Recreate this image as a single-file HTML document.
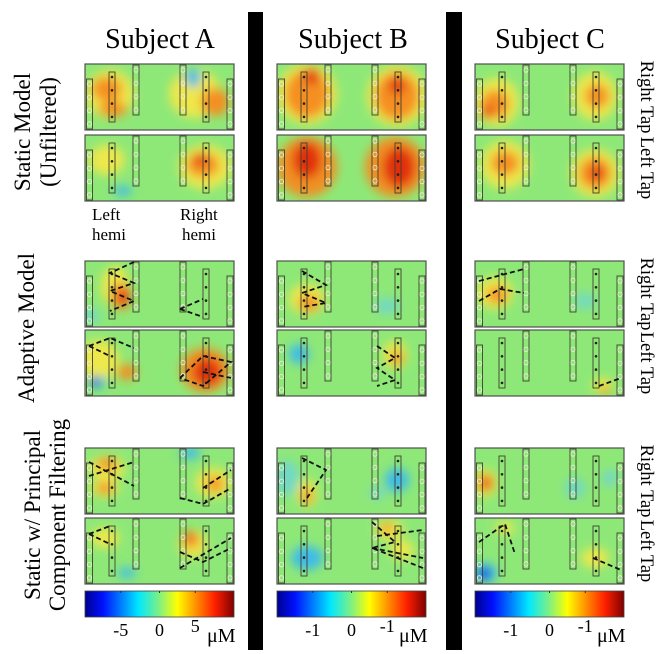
<!DOCTYPE html>
<html><head><meta charset="utf-8">
<style>
html,body{margin:0;padding:0;background:#fff;}
svg{display:block;}
text{font-family:"Liberation Serif",serif;fill:#000;}
</style></head>
<body>
<svg id="fig" width="667" height="654" viewBox="0 0 667 654" xmlns="http://www.w3.org/2000/svg">
<defs>
<filter id="blur" x="-50%" y="-50%" width="200%" height="200%"><feGaussianBlur stdDeviation="5"/></filter>
<linearGradient id="jet" x1="0" x2="1" y1="0" y2="0">
<stop offset="0" stop-color="#00008f"/><stop offset="0.12" stop-color="#0010ff"/>
<stop offset="0.36" stop-color="#00e8ff"/><stop offset="0.5" stop-color="#80f080"/>
<stop offset="0.62" stop-color="#ffff00"/><stop offset="0.87" stop-color="#ff2000"/>
<stop offset="1" stop-color="#800000"/></linearGradient>
<clipPath id="pclip"><rect x="0" y="0" width="149" height="66"/></clipPath>
</defs>
<rect x="248" y="12" width="15" height="638" fill="#000"/>
<rect x="446" y="12" width="16" height="638" fill="#000"/>
<text x="160" y="48" font-size="28" text-anchor="middle">Subject A</text>
<text x="353" y="48" font-size="28" text-anchor="middle">Subject B</text>
<text x="550" y="48" font-size="28" text-anchor="middle">Subject C</text>
<g font-size="18.5">
<text transform="translate(641,97) rotate(90)" text-anchor="middle">Right Tap</text>
<text transform="translate(641,168) rotate(90)" text-anchor="middle">Left Tap</text>
<text transform="translate(641,294) rotate(90)" text-anchor="middle">Right Tap</text>
<text transform="translate(641,363) rotate(90)" text-anchor="middle">Left Tap</text>
<text transform="translate(641,481) rotate(90)" text-anchor="middle">Right Tap</text>
<text transform="translate(641,551) rotate(90)" text-anchor="middle">Left Tap</text>
</g>
<g font-size="23">
<text transform="translate(30,132) rotate(-90)" text-anchor="middle">Static Model</text>
<text transform="translate(56,132) rotate(-90)" text-anchor="middle">(Unfiltered)</text>
<text transform="translate(34,328) rotate(-90)" text-anchor="middle">Adaptive Model</text>
<text transform="translate(40,515) rotate(-90)" text-anchor="middle">Static w/ Principal</text>
<text transform="translate(65,515) rotate(-90)" text-anchor="middle">Component Filtering</text>
</g>
<g font-size="17">
<text x="92" y="220">Left</text>
<text x="92" y="240">hemi</text>
<text x="180" y="220">Right</text>
<text x="182" y="240">hemi</text>
</g>
<g id="panels"></g>
<g id="bars"></g>
</svg>
<script>
const colX = [85, 277, 475];
const rowY = [64, 135, 261, 330, 448, 518];
const C = {r:"#e02810", o:"#f58a20", y:"#f2e848", b:"#38b8f0", d:"#1028d8", lb:"#70d8c8"};
// blobs per panel: [cx, cy, rx, ry, color]  (panel units 149x66)
const blobs = [
 [[[25,30,24,24,"y"],[110,30,26,24,"y"],[22,25,15,12,"o"],[28,45,14,8,"o"],[130,38,14,14,"o"],[108,14,8,9,"b"]],
  [[22,25,18,15,"y"],[38,56,9,5,"b"],[120,32,26,22,"y"],[118,30,16,12,"o"],[115,24,7,6,"r"]]],
 [[[30,30,30,30,"y"],[30,30,22,24,"o"],[35,12,8,8,"r"],[120,32,30,30,"y"],[120,32,22,24,"o"],[120,22,8,8,"r"]],
  [[30,32,30,30,"o"],[30,25,14,18,"r"],[118,32,30,30,"o"],[122,32,16,20,"r"]]],
 [[[22,38,22,24,"y"],[20,40,14,14,"o"],[12,48,6,6,"r"],[120,32,22,24,"y"],[122,32,12,12,"o"]],
  [[30,30,24,24,"y"],[30,28,14,12,"o"],[120,38,24,24,"y"],[120,38,16,16,"o"],[122,38,7,7,"r"]]],
 [[[30,25,14,20,"y"],[36,35,10,14,"o"],[38,36,6,8,"r"],[5,55,10,7,"lb"]],
  [[14,30,20,20,"y"],[42,42,10,8,"o"],[12,52,8,6,"b"],[10,52,5,4,"d"],[120,40,24,22,"o"],[122,42,14,14,"r"]]],
 [[[30,38,18,15,"y"],[32,42,10,8,"o"],[110,45,12,8,"lb"]],
  [[22,24,10,10,"b"],[118,25,12,14,"y"],[120,28,6,7,"o"]]],
 [[[20,32,18,16,"y"],[22,34,10,8,"o"],[110,40,10,8,"lb"]],
  [[128,56,10,8,"y"],[130,60,5,4,"o"]]],
 [[[22,20,18,12,"y"],[22,16,10,6,"o"],[20,40,14,9,"y"],[20,40,8,6,"o"],[128,35,18,15,"y"],[130,36,8,8,"o"],[105,5,10,6,"b"]],
  [[20,20,14,10,"y"],[42,55,9,5,"b"],[108,26,14,14,"y"],[106,22,8,8,"o"],[104,18,4,5,"r"]]],
 [[[10,30,12,18,"lb"],[30,45,10,14,"y"],[30,48,5,8,"o"],[120,32,12,12,"b"],[100,45,8,6,"lb"]],
  [[30,40,16,12,"b"],[112,12,14,10,"y"],[110,10,6,5,"o"],[125,32,12,10,"y"]]],
 [[[10,35,12,14,"y"],[10,35,8,9,"o"],[12,35,5,5,"r"],[100,40,10,10,"lb"],[135,30,8,8,"lb"]],
  [[10,55,12,10,"b"],[9,56,6,6,"d"],[120,40,14,10,"y"],[30,10,10,6,"y"]]]
];
// dashed source-detector paths per panel (same indexing as blobs)
const dashes = [
 [[],[]],[[],[]],[[],[]],
 [[[49,1,25,12,49,22,25,30,49,40,25,50],[95,48,118,56],[95,48,118,38]],
  [[4,16,25,8,49,18],[4,16,25,26],[95,48,118,26,146,32,118,56,95,48],[118,42,146,48]]],
 [[[25,10,49,24,25,32,49,42,25,46]],
  [[100,16,118,28,100,38,118,50,100,56]]],
 [[[4,20,49,8],[4,40,25,28,49,32]],
  [[124,56,146,48]]],
 [[[4,14,49,38],[4,28,49,14],[95,50,118,56,146,40],[118,40,146,22]],
  [[4,16,25,8],[4,16,25,26],[95,34,118,44,146,30],[95,50,146,20]]],
 [[[25,10,49,22,30,50]],
  [[95,4,118,24,95,30,146,50],[95,30,146,40],[100,18,146,12]]],
 [[],
  [[4,24,30,6,40,36],[118,40,146,52]]]
];
</script>
<script>
(function(){
const NS="http://www.w3.org/2000/svg";
const panels=document.getElementById('panels');
function mk(tag,attrs,parent){const e=document.createElementNS(NS,tag);for(const k in attrs)e.setAttribute(k,attrs[k]);parent.appendChild(e);return e;}
const optCols=[[1.5,15],[24,8],[48,1],[95,1],[118,8],[142,15]];
for(let r=0;r<3;r++){
 for(let c=0;c<3;c++){
  for(let k=0;k<2;k++){
   const rowI=r*2+k;
   const g=mk('g',{transform:`translate(${colX[c]},${rowY[rowI]})`},panels);
   
   
   const inner=mk('g',{'clip-path':'url(#pclip)'},g);
   mk('rect',{x:0,y:0,width:149,height:66,fill:'#8ee878'},inner);
   const bg=mk('g',{filter:'url(#blur)'},inner);
   blobs[r*3+c][k].forEach(b=>{const e=mk('ellipse',{cx:b[0],cy:b[1],rx:b[2],ry:b[3],fill:C[b[4]],opacity:0.95},bg);
     
     });
   optCols.forEach((o,i)=>{
     mk('rect',{x:o[0],y:o[1],width:6,height:50,fill:'none',stroke:'#404030','stroke-width':0.9},g);
     for(let j=0;j<4;j++){const cy=o[1]+5+j*13.3;
       if(i==1||i==4) mk('circle',{cx:o[0]+3,cy:cy,r:1.3,fill:'#202010'},g);
       else mk('circle',{cx:o[0]+3,cy:cy,r:2.2,fill:'none',stroke:'#f0f0e0','stroke-width':0.8},g);}
   });
   dashes[r*3+c][k].forEach(p=>{
     const pl=mk('polyline',{points:p.join(' '),fill:'none',stroke:'#111','stroke-width':1.8,'stroke-dasharray':'5 3'},g);
     
     
   });
   mk('rect',{x:0,y:0,width:149,height:66,fill:'none',stroke:'#505050','stroke-width':1.2},g);
  }
 }
}
const bars=document.getElementById('bars');
const tickLabels=[["-5","0","5"],["-1","0","-1"],["-1","0","-1"]];
const tickFrac=[0.24,0.5,0.74];
for(let c=0;c<3;c++){
 const g=mk('g',{transform:`translate(${colX[c]},591)`},bars);
 
 
 mk('rect',{x:0,y:0,width:149,height:26,fill:'url(#jet)',stroke:'#404040','stroke-width':0.8},g);
 tickLabels[c].forEach((t,i)=>{const x=tickFrac[i]*149;
   mk('line',{x1:x,x2:x,y1:0,y2:2,stroke:'#333'},g);
   const tx=mk('text',{x:x,y:(i==2?41:45),'font-size':18,'text-anchor':'middle'},g);tx.textContent=t;
   
   });
 const u=mk('text',{x:122,y:51,'font-size':20},g);u.textContent='μM';
 
 
}
})();
</script>
</body></html>
